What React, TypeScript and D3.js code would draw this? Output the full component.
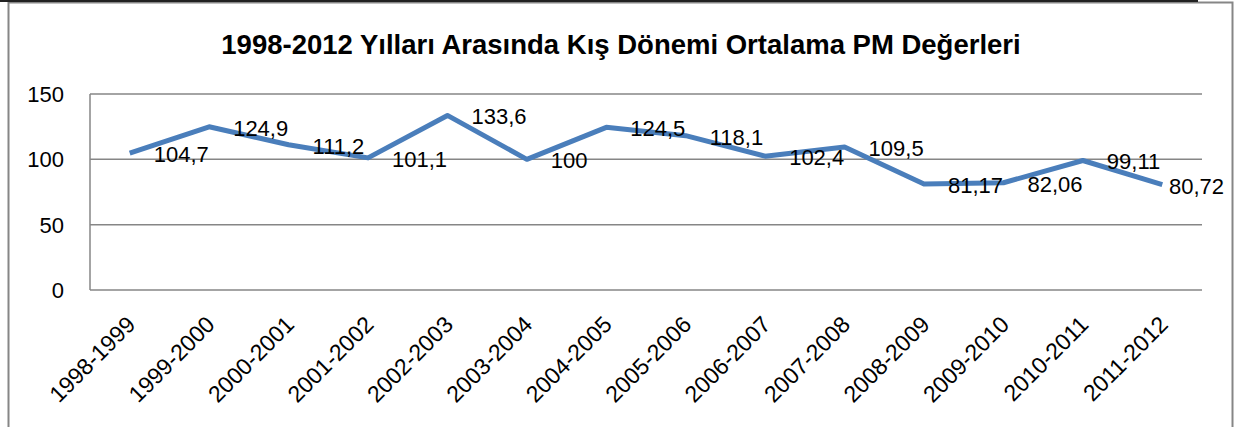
import React, { useRef, useEffect } from 'react'
import { select, scalePoint, scaleLinear, line, curveLinear } from 'd3'

const title = '1998-2012 Yılları Arasında Kış Dönemi Ortalama PM Değerleri'
const seasons = ['1998-1999', '1999-2000', '2000-2001', '2001-2002', '2002-2003', '2003-2004', '2004-2005',
    '2005-2006', '2006-2007', '2007-2008', '2008-2009', '2009-2010', '2010-2011', '2011-2012']
const pmValues = [104.7, 124.9, 111.2, 101.1, 133.6, 100, 124.5, 118.1, 102.4, 109.5, 81.17, 82.06, 99.11, 80.72]
const yTicks = [0, 50, 100, 150]

const W = 1243
const H = 427
const FONT = "'Liberation Sans', Arial, sans-serif"

function App() {
    const svgRef = useRef<SVGSVGElement>(null)

    useEffect(() => {
        const svg = select(svgRef.current)
        svg.selectAll('*').remove()

        const left = 90, right = 1202, top = 94, bottom = 290

        const xScale = scalePoint<string>()
            .domain(seasons)
            .range([left, right])
            .padding(0.5)

        const yScale = scaleLinear()
            .domain([0, 150])
            .range([bottom, top])

        // outer frame
        svg.append('rect')
            .attr('x', 8.5).attr('y', 2.5)
            .attr('width', 1224).attr('height', 500)
            .attr('fill', 'white')
            .attr('stroke', '#868686')
            .attr('stroke-width', 2)
        svg.append('line')
            .attr('x1', 0).attr('x2', 1198)
            .attr('y1', 1).attr('y2', 1)
            .attr('stroke', '#222')
            .attr('stroke-width', 2)

        svg.append('text')
            .attr('x', 621).attr('y', 54)
            .attr('text-anchor', 'middle')
            .attr('font-family', FONT)
            .attr('font-weight', 'bold')
            .attr('font-size', 27.5)
            .text(title)

        // gridlines + y labels
        svg.append('g').selectAll('line')
            .data(yTicks)
            .join('line')
            .attr('x1', left).attr('x2', right)
            .attr('y1', d => yScale(d)).attr('y2', d => yScale(d))
            .attr('stroke', '#868686')
            .attr('stroke-width', 1.5)
        svg.append('line')
            .attr('x1', left).attr('x2', left)
            .attr('y1', top).attr('y2', bottom)
            .attr('stroke', '#868686')
            .attr('stroke-width', 1.5)

        svg.append('g').selectAll('text')
            .data(yTicks)
            .join('text')
            .attr('x', 64)
            .attr('y', d => yScale(d) + 8)
            .attr('text-anchor', 'end')
            .attr('font-family', FONT)
            .attr('font-size', 22)
            .text(d => d)

        // x labels
        svg.append('g').selectAll('text')
            .data(seasons)
            .join('text')
            .attr('transform', d => `translate(${xScale(d)! + 7},${326}) rotate(-45)`)
            .attr('text-anchor', 'end')
            .attr('font-family', FONT)
            .attr('font-size', 23)
            .text(d => d)

        const myLine = line<number>()
            .x((v, i) => xScale(seasons[i])!)
            .y(v => yScale(v))
            .curve(curveLinear)
        svg.append('path')
            .datum(pmValues)
            .attr('d', myLine)
            .attr('fill', 'none')
            .attr('stroke', '#4A7EBB')
            .attr('stroke-width', 5)
            .attr('stroke-linejoin', 'round')

        // data labels (right of each point, kept inside the chart)
        svg.append('g').selectAll('text')
            .data(pmValues)
            .join('text')
            .attr('x', (v, i) => xScale(seasons[i])! + 24)
            .attr('y', v => yScale(v) + 9)
            .attr('font-family', FONT)
            .attr('font-size', 22)
            .text(v => String(v).replace('.', ','))
            .each(function () {
                const el = this as SVGTextElement
                const w = el.getComputedTextLength()
                const x = +el.getAttribute('x')!
                if (x + w > 1224) el.setAttribute('x', String(1224 - w))
            })
    }, [])

    return (
        <svg ref={svgRef} width={W} height={H}
            style={{ position: 'absolute', left: 0, top: 0, background: 'white' }} />
    )
}

export default App
